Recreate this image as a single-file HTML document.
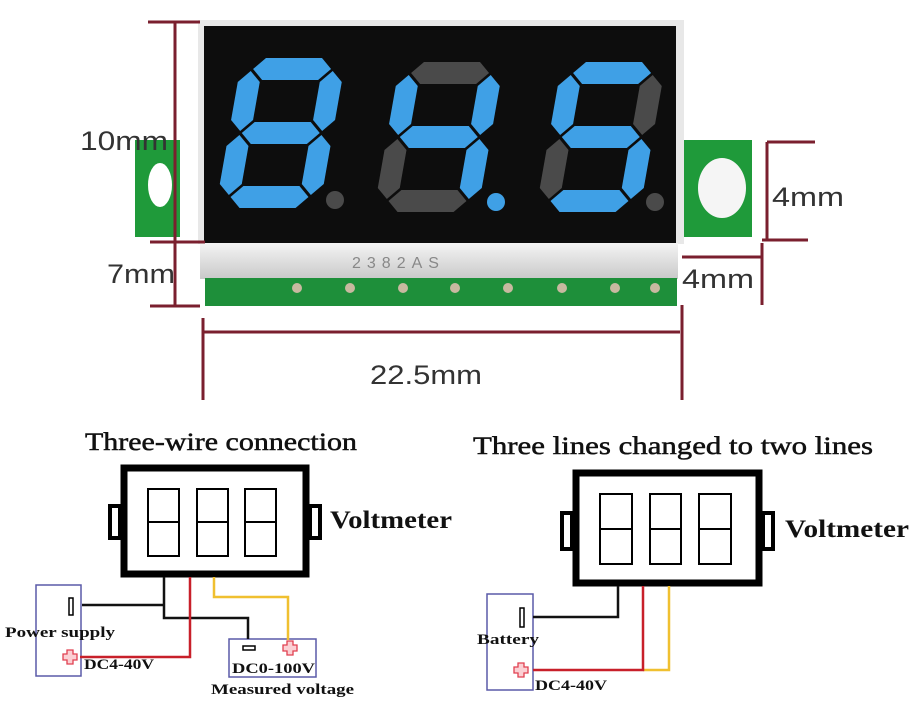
<!DOCTYPE html>
<html><head><meta charset="utf-8"><style>
html,body{margin:0;padding:0;background:#fff;}
svg{display:block;}
.lbl{font-family:"Liberation Sans",sans-serif;fill:#333;font-size:27px;}
.ser{font-family:"Liberation Serif",serif;fill:#111;}
</style></head><body>
<svg width="919" height="709" viewBox="0 0 919 709" xmlns="http://www.w3.org/2000/svg">
<defs>
<linearGradient id="silv" x1="0" y1="0" x2="0" y2="1"><stop offset="0" stop-color="#f4f4f4"/><stop offset="1" stop-color="#c9c9c9"/></linearGradient>
<g id="sa"><polygon points="13,11 24,0 80,0 91,11 80,22 24,22"/></g>
</defs>
<!-- green tabs -->
<rect x="135" y="140" width="45" height="97" fill="#1f9a3a"/>
<ellipse cx="160" cy="185" rx="12" ry="22" fill="#fff"/>
<rect x="680" y="140" width="72" height="97" fill="#1f9a3a"/>
<ellipse cx="722" cy="188" rx="24" ry="30" fill="#f5f5f5"/>
<!-- module -->
<rect x="198" y="20" width="486" height="224" fill="#e8e8e8"/>
<rect x="204" y="26" width="472" height="217" fill="#0d0d0d"/>
<rect x="200" y="243" width="478" height="36" fill="url(#silv)"/>
<text x="352" y="268" font-family="Liberation Sans,sans-serif" font-size="16" fill="#888" letter-spacing="6">2382AS</text>
<rect x="205" y="278" width="472" height="28" fill="#1e8f3a"/>
<g fill="#c8b9a0">
<circle cx="297" cy="288" r="5"/><circle cx="350" cy="288" r="5"/><circle cx="403" cy="288" r="5"/><circle cx="455" cy="288" r="5"/><circle cx="508" cy="288" r="5"/><circle cx="562" cy="288" r="5"/><circle cx="615" cy="288" r="5"/><circle cx="655" cy="288" r="5"/>
</g>
<!-- digits: a,g,d,f,b,e,c -->
<g transform="translate(242,58) skewX(-10)">
<polygon fill="#3fa0e6" points="13,11 24,0 80,0 91,11 80,22 24,22"/>
<polygon fill="#3fa0e6" points="13,75 24,64 80,64 91,75 80,86 24,86"/>
<polygon fill="#3fa0e6" points="13,139 24,128 80,128 91,139 80,150 24,150"/>
<polygon fill="#3fa0e6" points="11,13 22,24 22,62 11,73 0,62 0,24"/>
<polygon fill="#3fa0e6" points="93,13 104,24 104,62 93,73 82,62 82,24"/>
<polygon fill="#3fa0e6" points="11,77 22,88 22,126 11,137 0,126 0,88"/>
<polygon fill="#3fa0e6" points="93,77 104,88 104,126 93,137 82,126 82,88"/>
</g>
<g transform="translate(400,62) skewX(-10)">
<polygon fill="#4a4a4a" points="13,11 24,0 80,0 91,11 80,22 24,22"/>
<polygon fill="#3fa0e6" points="13,75 24,64 80,64 91,75 80,86 24,86"/>
<polygon fill="#4a4a4a" points="13,139 24,128 80,128 91,139 80,150 24,150"/>
<polygon fill="#3fa0e6" points="11,13 22,24 22,62 11,73 0,62 0,24"/>
<polygon fill="#3fa0e6" points="93,13 104,24 104,62 93,73 82,62 82,24"/>
<polygon fill="#4a4a4a" points="11,77 22,88 22,126 11,137 0,126 0,88"/>
<polygon fill="#3fa0e6" points="93,77 104,88 104,126 93,137 82,126 82,88"/>
</g>
<g transform="translate(562,62) skewX(-10)">
<polygon fill="#3fa0e6" points="13,11 24,0 80,0 91,11 80,22 24,22"/>
<polygon fill="#3fa0e6" points="13,75 24,64 80,64 91,75 80,86 24,86"/>
<polygon fill="#3fa0e6" points="13,139 24,128 80,128 91,139 80,150 24,150"/>
<polygon fill="#3fa0e6" points="11,13 22,24 22,62 11,73 0,62 0,24"/>
<polygon fill="#4a4a4a" points="93,13 104,24 104,62 93,73 82,62 82,24"/>
<polygon fill="#4a4a4a" points="11,77 22,88 22,126 11,137 0,126 0,88"/>
<polygon fill="#3fa0e6" points="93,77 104,88 104,126 93,137 82,126 82,88"/>
</g>
<circle cx="335" cy="200" r="9" fill="#4a4a4a"/>
<circle cx="496" cy="202" r="9" fill="#3fa0e6"/>
<circle cx="655" cy="202" r="9" fill="#4a4a4a"/>
<!-- dimension lines -->
<g stroke="#7a1f2e" stroke-width="3" fill="none">
<line x1="175" y1="22" x2="175" y2="307"/>
<line x1="148" y1="22" x2="200" y2="22"/>
<line x1="150" y1="242" x2="205" y2="242"/>
<line x1="150" y1="306" x2="200" y2="306"/>
<line x1="767" y1="142" x2="767" y2="240"/>
<line x1="767" y1="142" x2="815" y2="142"/>
<line x1="762" y1="240" x2="808" y2="240"/>
<line x1="762" y1="243" x2="762" y2="305"/>
<line x1="682" y1="257" x2="762" y2="257"/>
<line x1="203" y1="332" x2="680" y2="332"/>
<line x1="203" y1="318" x2="203" y2="400"/>
<line x1="682" y1="305" x2="682" y2="400"/>
</g>
<text class="lbl" x="80" y="150" textLength="88" lengthAdjust="spacingAndGlyphs">10mm</text>
<text class="lbl" x="107" y="283" textLength="68" lengthAdjust="spacingAndGlyphs">7mm</text>
<text class="lbl" x="772" y="206" textLength="72" lengthAdjust="spacingAndGlyphs">4mm</text>
<text class="lbl" x="682" y="288" textLength="72" lengthAdjust="spacingAndGlyphs">4mm</text>
<text class="lbl" x="370" y="384" textLength="112" lengthAdjust="spacingAndGlyphs">22.5mm</text>

<!-- left diagram -->
<text class="ser" x="85" y="450" font-size="25" stroke="#111" stroke-width="0.5" textLength="272" lengthAdjust="spacingAndGlyphs">Three-wire connection</text>
<g fill="none" stroke="#000">
<rect x="124" y="468" width="182" height="106" stroke-width="7"/>
<rect x="110" y="506" width="10" height="32" stroke-width="4"/>
<rect x="310" y="506" width="10" height="32" stroke-width="4"/>
<g stroke-width="2">
<rect x="148" y="489" width="31" height="67"/><line x1="148" y1="522" x2="179" y2="522"/>
<rect x="197" y="489" width="31" height="67"/><line x1="197" y1="522" x2="228" y2="522"/>
<rect x="245" y="489" width="31" height="67"/><line x1="245" y1="522" x2="276" y2="522"/>
</g>
</g>
<text class="ser" x="330" y="528" font-size="25" font-weight="bold" textLength="122" lengthAdjust="spacingAndGlyphs">Voltmeter</text>
<rect x="36" y="585" width="45" height="91" fill="none" stroke="#5a5aa8" stroke-width="1.5"/>
<rect x="229" y="639" width="87" height="38" fill="none" stroke="#5a5aa8" stroke-width="1.5"/>
<rect x="69" y="598" width="4" height="17" fill="none" stroke="#000" stroke-width="1.5"/>
<rect x="243" y="646" width="12" height="4" fill="none" stroke="#000" stroke-width="1.5"/>
<g stroke-width="2.5" fill="none">
<polyline stroke="#111" points="82,605 164,605"/>
<polyline stroke="#111" points="164,577 164,618 248,618 248,639"/>
<polyline stroke="#c8202a" points="190,577 190,657 80,657"/>
<polyline stroke="#f0c030" points="214,577 214,597 288,597 288,640"/>
</g>
<g fill="#fbd0d4" stroke="#e04050" stroke-width="1.3">
<polygon points="67,650 73,650 73,654 77,654 77,660 73,660 73,664 67,664 67,660 63,660 63,654 67,654"/>
<polygon points="287,641 293,641 293,645 297,645 297,651 293,651 293,655 287,655 287,651 283,651 283,645 287,645"/>
<polygon points="518,663 524,663 524,667 528,667 528,673 524,673 524,677 518,677 518,673 514,673 514,667 518,667"/>
</g>
<text class="ser" x="5" y="637" font-size="15" font-weight="bold" textLength="110" lengthAdjust="spacingAndGlyphs">Power supply</text>
<text class="ser" x="84" y="669" font-size="15" font-weight="bold" textLength="70" lengthAdjust="spacingAndGlyphs">DC4-40V</text>
<text class="ser" x="232" y="673" font-size="15" font-weight="bold" textLength="83" lengthAdjust="spacingAndGlyphs">DC0-100V</text>
<text class="ser" x="211" y="694" font-size="15" font-weight="bold" textLength="143" lengthAdjust="spacingAndGlyphs">Measured voltage</text>

<!-- right diagram -->
<text class="ser" x="473" y="454" font-size="25" stroke="#111" stroke-width="0.5" textLength="400" lengthAdjust="spacingAndGlyphs">Three lines changed to two lines</text>
<g fill="none" stroke="#000">
<rect x="576" y="473" width="183" height="110" stroke-width="7"/>
<rect x="562" y="513" width="10" height="36" stroke-width="4"/>
<rect x="763" y="513" width="10" height="36" stroke-width="4"/>
<g stroke-width="2">
<rect x="600" y="494" width="32" height="70"/><line x1="600" y1="529" x2="632" y2="529"/>
<rect x="650" y="494" width="31" height="70"/><line x1="650" y1="529" x2="681" y2="529"/>
<rect x="699" y="494" width="32" height="70"/><line x1="699" y1="529" x2="731" y2="529"/>
</g>
</g>
<text class="ser" x="785" y="537" font-size="25" font-weight="bold" textLength="124" lengthAdjust="spacingAndGlyphs">Voltmeter</text>
<rect x="487" y="594" width="46" height="96" fill="none" stroke="#5a5aa8" stroke-width="1.5"/>
<rect x="520" y="608" width="4" height="19" fill="none" stroke="#000" stroke-width="1.5"/>
<g stroke-width="2.5" fill="none">
<polyline stroke="#111" points="618,586 618,617 533,617"/>
<polyline stroke="#f0c030" points="669,586 669,670 643,670"/>
<polyline stroke="#c8202a" points="643,586 643,670 533,670"/>
</g>
<text class="ser" x="477" y="644" font-size="15" font-weight="bold" textLength="62" lengthAdjust="spacingAndGlyphs">Battery</text>
<text class="ser" x="535" y="690" font-size="15" font-weight="bold" textLength="72" lengthAdjust="spacingAndGlyphs">DC4-40V</text>
</svg>
</body></html>
